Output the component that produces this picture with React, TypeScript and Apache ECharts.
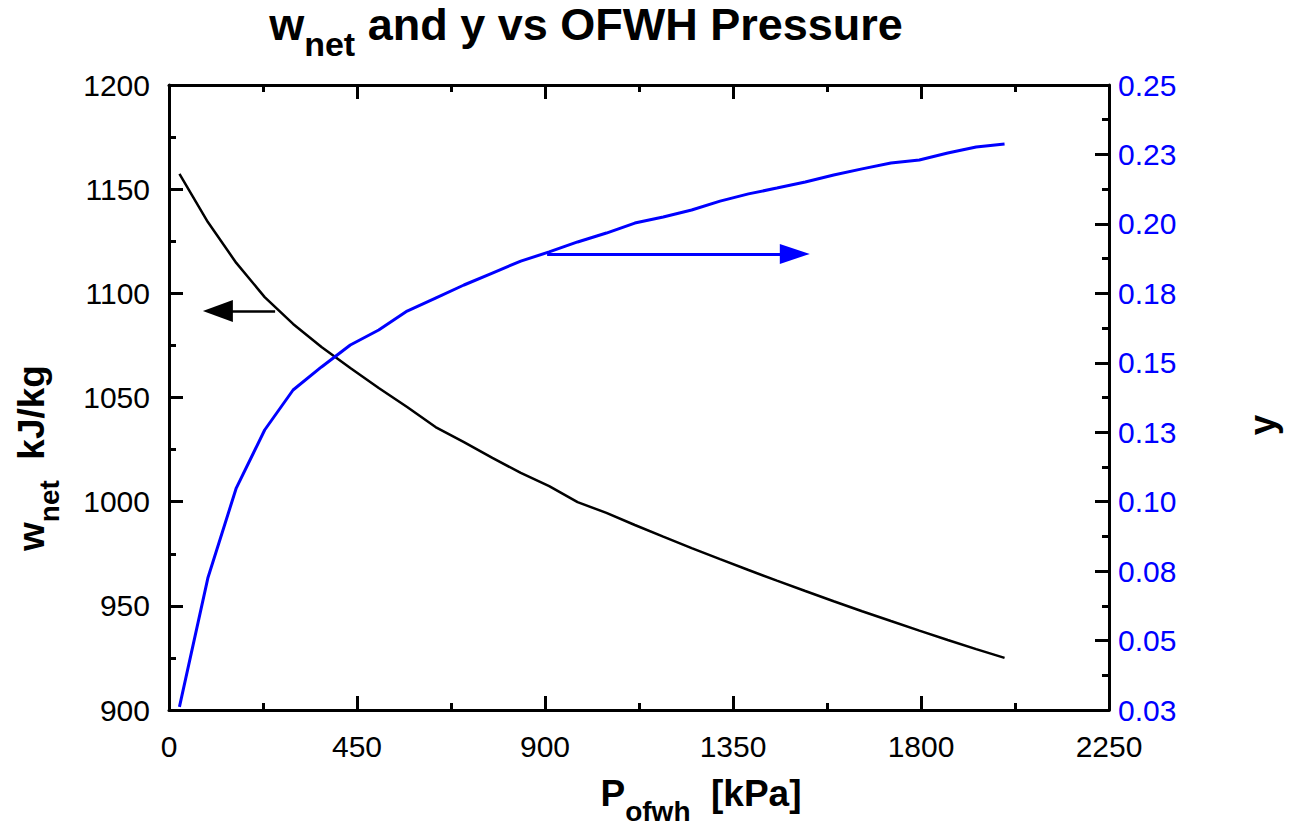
import React, { useEffect, useRef } from "react";
import * as echarts from "echarts";

// OFWH pressure [kPa]
const pressure = [25, 93, 161, 229, 297, 365, 434, 502, 570, 638, 706, 774, 842, 910, 978, 1047, 1115, 1183, 1251, 1319, 1387, 1455, 1523, 1591, 1659, 1728, 1796, 1864, 1932, 2000];
// net work [kJ/kg]
const wNet = [1157.3, 1134.2, 1114.6, 1098.2, 1085.3, 1074.2, 1064.2, 1054.6, 1045.4, 1035.8, 1028.6, 1021.0, 1013.8, 1007.5, 999.8, 994.6, 988.8, 983.2, 977.7, 972.4, 967.2, 962.1, 957.1, 952.2, 947.4, 942.7, 938.1, 933.6, 929.2, 925.0];
// extraction fraction y
const yFrac = [0.0261, 0.0725, 0.1049, 0.1258, 0.1402, 0.1485, 0.1564, 0.1618, 0.1686, 0.1733, 0.178, 0.1823, 0.1866, 0.1899, 0.1935, 0.1967, 0.2003, 0.2025, 0.205, 0.2082, 0.2108, 0.2129, 0.2151, 0.2176, 0.2198, 0.2219, 0.223, 0.2255, 0.2277, 0.2288];

const rightTickLabels = ["0.03", "0.05", "0.08", "0.10", "0.13", "0.15", "0.18", "0.20", "0.23", "0.25"];

// annotation arrows (data coordinates)
const wArrowFrom = [254, 1091.5];
const wArrowTo = [117, 1091.5];
const yArrowFrom = [905, 0.1892];
const yArrowTo = [1498, 0.1892];

const FONT = "Liberation Sans";

export default function App() {
  const ref = useRef<HTMLDivElement>(null);
  useEffect(() => {
    const chart = echarts.init(ref.current!, null, { renderer: "svg" });
    const lineStyle = { color: "#000", width: 3 };
    const tick = { show: true, inside: true, length: 14, lineStyle };
    const minor = { show: true, splitNumber: 2, length: 7, lineStyle };
    const tickLabel = { fontFamily: FONT, fontSize: 30, color: "#000", formatter: (v: number) => String(v) };
    const mainTok = (size: number) => ({
      fontFamily: FONT, fontWeight: "bold", fontSize: size, fill: "#000",
      padding: [0, 0, 14, 0], verticalAlign: "bottom",
    });
    const subTok = (size: number) => ({
      fontFamily: FONT, fontWeight: "bold", fontSize: size, fill: "#000", verticalAlign: "bottom",
    });
    chart.setOption({
      animation: false,
      backgroundColor: "#fff",
      grid: { left: 169, right: 180, top: 85, bottom: 119, containLabel: false },
      xAxis: [
        {
          type: "value", min: 0, max: 2250, interval: 450, position: "bottom",
          axisLine: { show: true, onZero: false, lineStyle },
          axisTick: tick, minorTick: minor, splitLine: { show: false },
          axisLabel: { ...tickLabel, margin: 21 },
        },
        {
          type: "value", min: 0, max: 2250, interval: 450, position: "top",
          axisLine: { show: true, onZero: false, lineStyle },
          axisTick: tick, minorTick: minor, splitLine: { show: false },
          axisLabel: { show: false },
        },
      ],
      yAxis: [
        {
          type: "value", min: 900, max: 1200, interval: 50, position: "left",
          axisLine: { show: true, onZero: false, lineStyle },
          axisTick: tick, minorTick: minor, splitLine: { show: false },
          axisLabel: { ...tickLabel, margin: 19 },
        },
        {
          type: "value", min: 0.025, max: 0.25, interval: 0.025, position: "right",
          axisLine: { show: true, onZero: false, lineStyle },
          axisTick: tick, minorTick: minor, splitLine: { show: false },
          axisLabel: {
            ...tickLabel, color: "#0000ff", margin: 9,
            formatter: (v: number) => rightTickLabels[Math.round((v - 0.025) / 0.025)] ?? "",
          },
        },
      ],
      series: [
        {
          type: "line", xAxisIndex: 0, yAxisIndex: 0,
          data: pressure.map((p, i) => [p, wNet[i]]),
          showSymbol: false, symbol: "none",
          lineStyle: { color: "#000", width: 2.5 }, itemStyle: { color: "#000" },
          markLine: {
            silent: true, symbol: ["none", "triangle"], symbolSize: [22, 30],
            label: { show: false },
            lineStyle: { color: "#000", width: 2.5, type: "solid" },
            itemStyle: { color: "#000" },
            data: [[{ coord: wArrowFrom }, { coord: wArrowTo }]],
          },
        },
        {
          type: "line", xAxisIndex: 0, yAxisIndex: 1,
          data: pressure.map((p, i) => [p, yFrac[i]]),
          showSymbol: false, symbol: "none",
          lineStyle: { color: "#0000ff", width: 3 }, itemStyle: { color: "#0000ff" },
          markLine: {
            silent: true, symbol: ["none", "triangle"], symbolSize: [20, 30],
            label: { show: false },
            lineStyle: { color: "#0000ff", width: 3, type: "solid" },
            itemStyle: { color: "#0000ff" },
            data: [[{ coord: yArrowFrom }, { coord: yArrowTo }]],
          },
        },
      ],
      graphic: [
        {
          type: "text", x: 586, y: 31,
          style: {
            text: "{m|w}{s|net}{m| and y vs OFWH Pressure}",
            align: "center", verticalAlign: "middle",
            rich: { m: mainTok(45), s: subTok(34) },
          },
        },
        {
          type: "text", x: 701, y: 800,
          style: {
            text: "{m|P}{s|ofwh}{m|  [kPa]}",
            align: "center", verticalAlign: "middle",
            rich: { m: mainTok(37), s: subTok(28) },
          },
        },
        {
          type: "text", x: 38, y: 458, rotation: Math.PI / 2,
          style: {
            text: "{m|w}{s|net}{m|  kJ/kg}",
            align: "center", verticalAlign: "middle",
            rich: { m: mainTok(37), s: subTok(28) },
          },
        },
        {
          type: "text", x: 1262, y: 425, rotation: Math.PI / 2,
          style: {
            text: "y", align: "center", verticalAlign: "middle",
            fontFamily: FONT, fontWeight: "bold", fontSize: 37, fill: "#000",
          },
        },
      ],
    });
    return () => chart.dispose();
  }, []);
  return (
    <div
      ref={ref}
      style={{ position: "fixed", left: 0, top: 0, width: 1289, height: 829, background: "#fff" }}
    />
  );
}
